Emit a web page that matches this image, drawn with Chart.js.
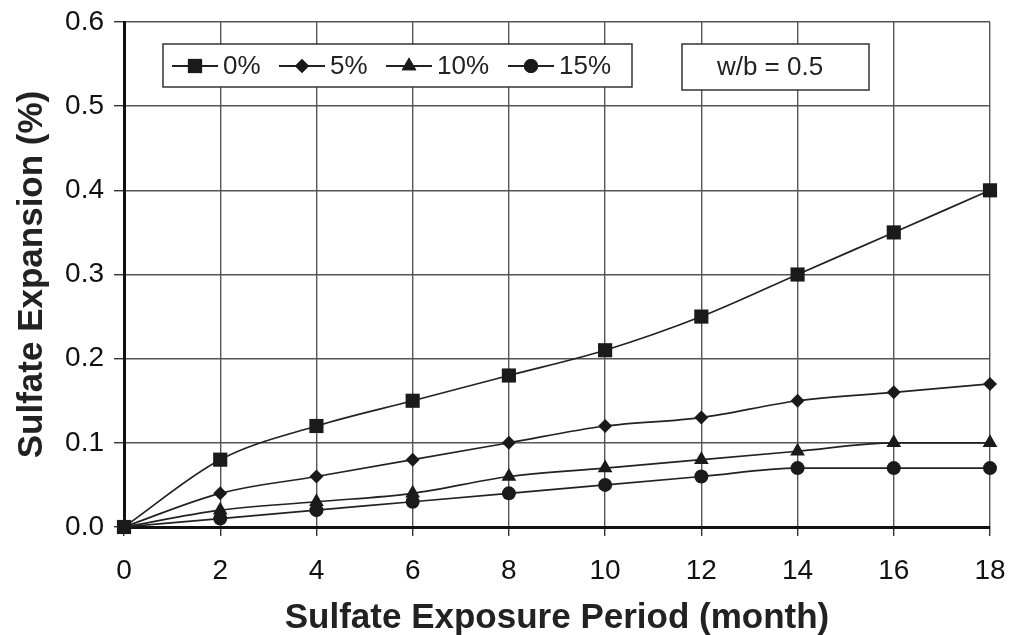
<!DOCTYPE html>
<html>
<head>
<meta charset="utf-8">
<script src="https://cdn.jsdelivr.net/npm/chart.js@4"></script>
<style>
  html, body { margin: 0; padding: 0; background: #fff; }
  #wrap { width: 1010px; height: 635px; }
</style>
</head>
<body>
<div id="wrap"><canvas id="chart" width="1010" height="635"></canvas></div>
<script>
// data
const months = [0, 2, 4, 6, 8, 10, 12, 14, 16, 18];
const seriesNames = ["0%", "5%", "10%", "15%"];
const exp0 = [0, 0.08, 0.12, 0.15, 0.18, 0.21, 0.25, 0.30, 0.35, 0.40];
const exp5 = [0, 0.04, 0.06, 0.08, 0.10, 0.12, 0.13, 0.15, 0.16, 0.17];
const exp10 = [0, 0.02, 0.03, 0.04, 0.06, 0.07, 0.08, 0.09, 0.10, 0.10];
const exp15 = [0, 0.01, 0.02, 0.03, 0.04, 0.05, 0.06, 0.07, 0.07, 0.07];
const noteText = "w/b = 0.5";

const styles = ["rect", "rectRot", "triangle", "circle"];
const radii = [10, 7, 8.5, 7];
const allValues = [exp0, exp5, exp10, exp15];

const datasets = allValues.map((vals, i) => ({
    label: seriesNames[i],
    data: months.map((m, j) => ({x: m, y: vals[j]})),
    borderColor: "#222",
    borderWidth: 1.7,
    backgroundColor: "#1a1a1a",
    pointStyle: styles[i],
    pointRadius: radii[i],
    pointBorderWidth: 0,
    cubicInterpolationMode: "monotone",
    clip: false
}));

const FONT = "'Liberation Sans', Arial, sans-serif";

// legend box and note box inside the plot
const boxes = {
    id: "boxes",
    afterDatasetsDraw(chart) {
        const ctx = chart.ctx;
        ctx.save();
        ctx.fillStyle = "#fff";
        ctx.strokeStyle = "#333";
        ctx.lineWidth = 1.5;
        ctx.fillRect(163, 44, 469, 43);
        ctx.strokeRect(163, 44, 469, 43);
        ctx.fillRect(682, 44, 187, 46);
        ctx.strokeRect(682, 44, 187, 46);

        const starts = [172, 279, 386, 508];
        ctx.font = "26px " + FONT;
        ctx.textBaseline = "middle";
        chart.data.datasets.forEach((ds, i) => {
            const x0 = starts[i];
            const y = 66;
            ctx.strokeStyle = "#222";
            ctx.lineWidth = 1.8;
            ctx.beginPath();
            ctx.moveTo(x0, y);
            ctx.lineTo(x0 + 46, y);
            ctx.stroke();
            ctx.fillStyle = "#1a1a1a";
            Chart.helpers.drawPoint(ctx, {pointStyle: ds.pointStyle, radius: ds.pointRadius, borderWidth: 0, rotation: 0}, x0 + 23, y);
            ctx.fill();
            ctx.fillStyle = "#222";
            ctx.textAlign = "left";
            ctx.fillText(ds.label, x0 + 51, y + 1);
        });
        ctx.textAlign = "center";
        ctx.fillText(noteText, 770, 68);
        ctx.restore();
    }
};

new Chart(document.getElementById("chart"), {
    type: "line",
    data: { datasets: datasets },
    options: {
        responsive: false,
        animation: false,
        layout: { padding: { top: 22, right: 20, left: 0, bottom: 0 } },
        plugins: { legend: { display: false }, tooltip: { enabled: false } },
        scales: {
            x: {
                type: "linear",
                min: 0, max: 18,
                afterFit: s => { s.height = 108; s.paddingLeft = 0; s.paddingRight = 0; },
                ticks: { stepSize: 2, color: "#111", font: { family: FONT, size: 28 }, padding: 18 },
                grid: { color: "#555", lineWidth: 1.4, tickLength: 9, tickColor: "#333" },
                border: { color: "#111", width: 3 },
                title: { display: true, text: "Sulfate Exposure Period (month)", color: "#222",
                         font: { family: FONT, size: 35, weight: "bold" }, padding: { top: 0, bottom: -4 } }
            },
            y: {
                min: 0, max: 0.6,
                afterFit: s => { s.width = 124; s.paddingTop = 0; s.paddingBottom = 0; },
                ticks: { stepSize: 0.1, color: "#111", font: { family: FONT, size: 28 }, padding: 10,
                         callback: v => v.toFixed(1) },
                grid: { color: "#555", lineWidth: 1.4, tickLength: 10, tickColor: "#333" },
                border: { color: "#111", width: 3 },
                title: { display: true, text: "Sulfate Expansion (%)", color: "#222",
                         font: { family: FONT, size: 35, weight: "bold" }, padding: { top: 11, bottom: 0 } }
            }
        }
    },
    plugins: [boxes]
});
</script>
</body>
</html>
